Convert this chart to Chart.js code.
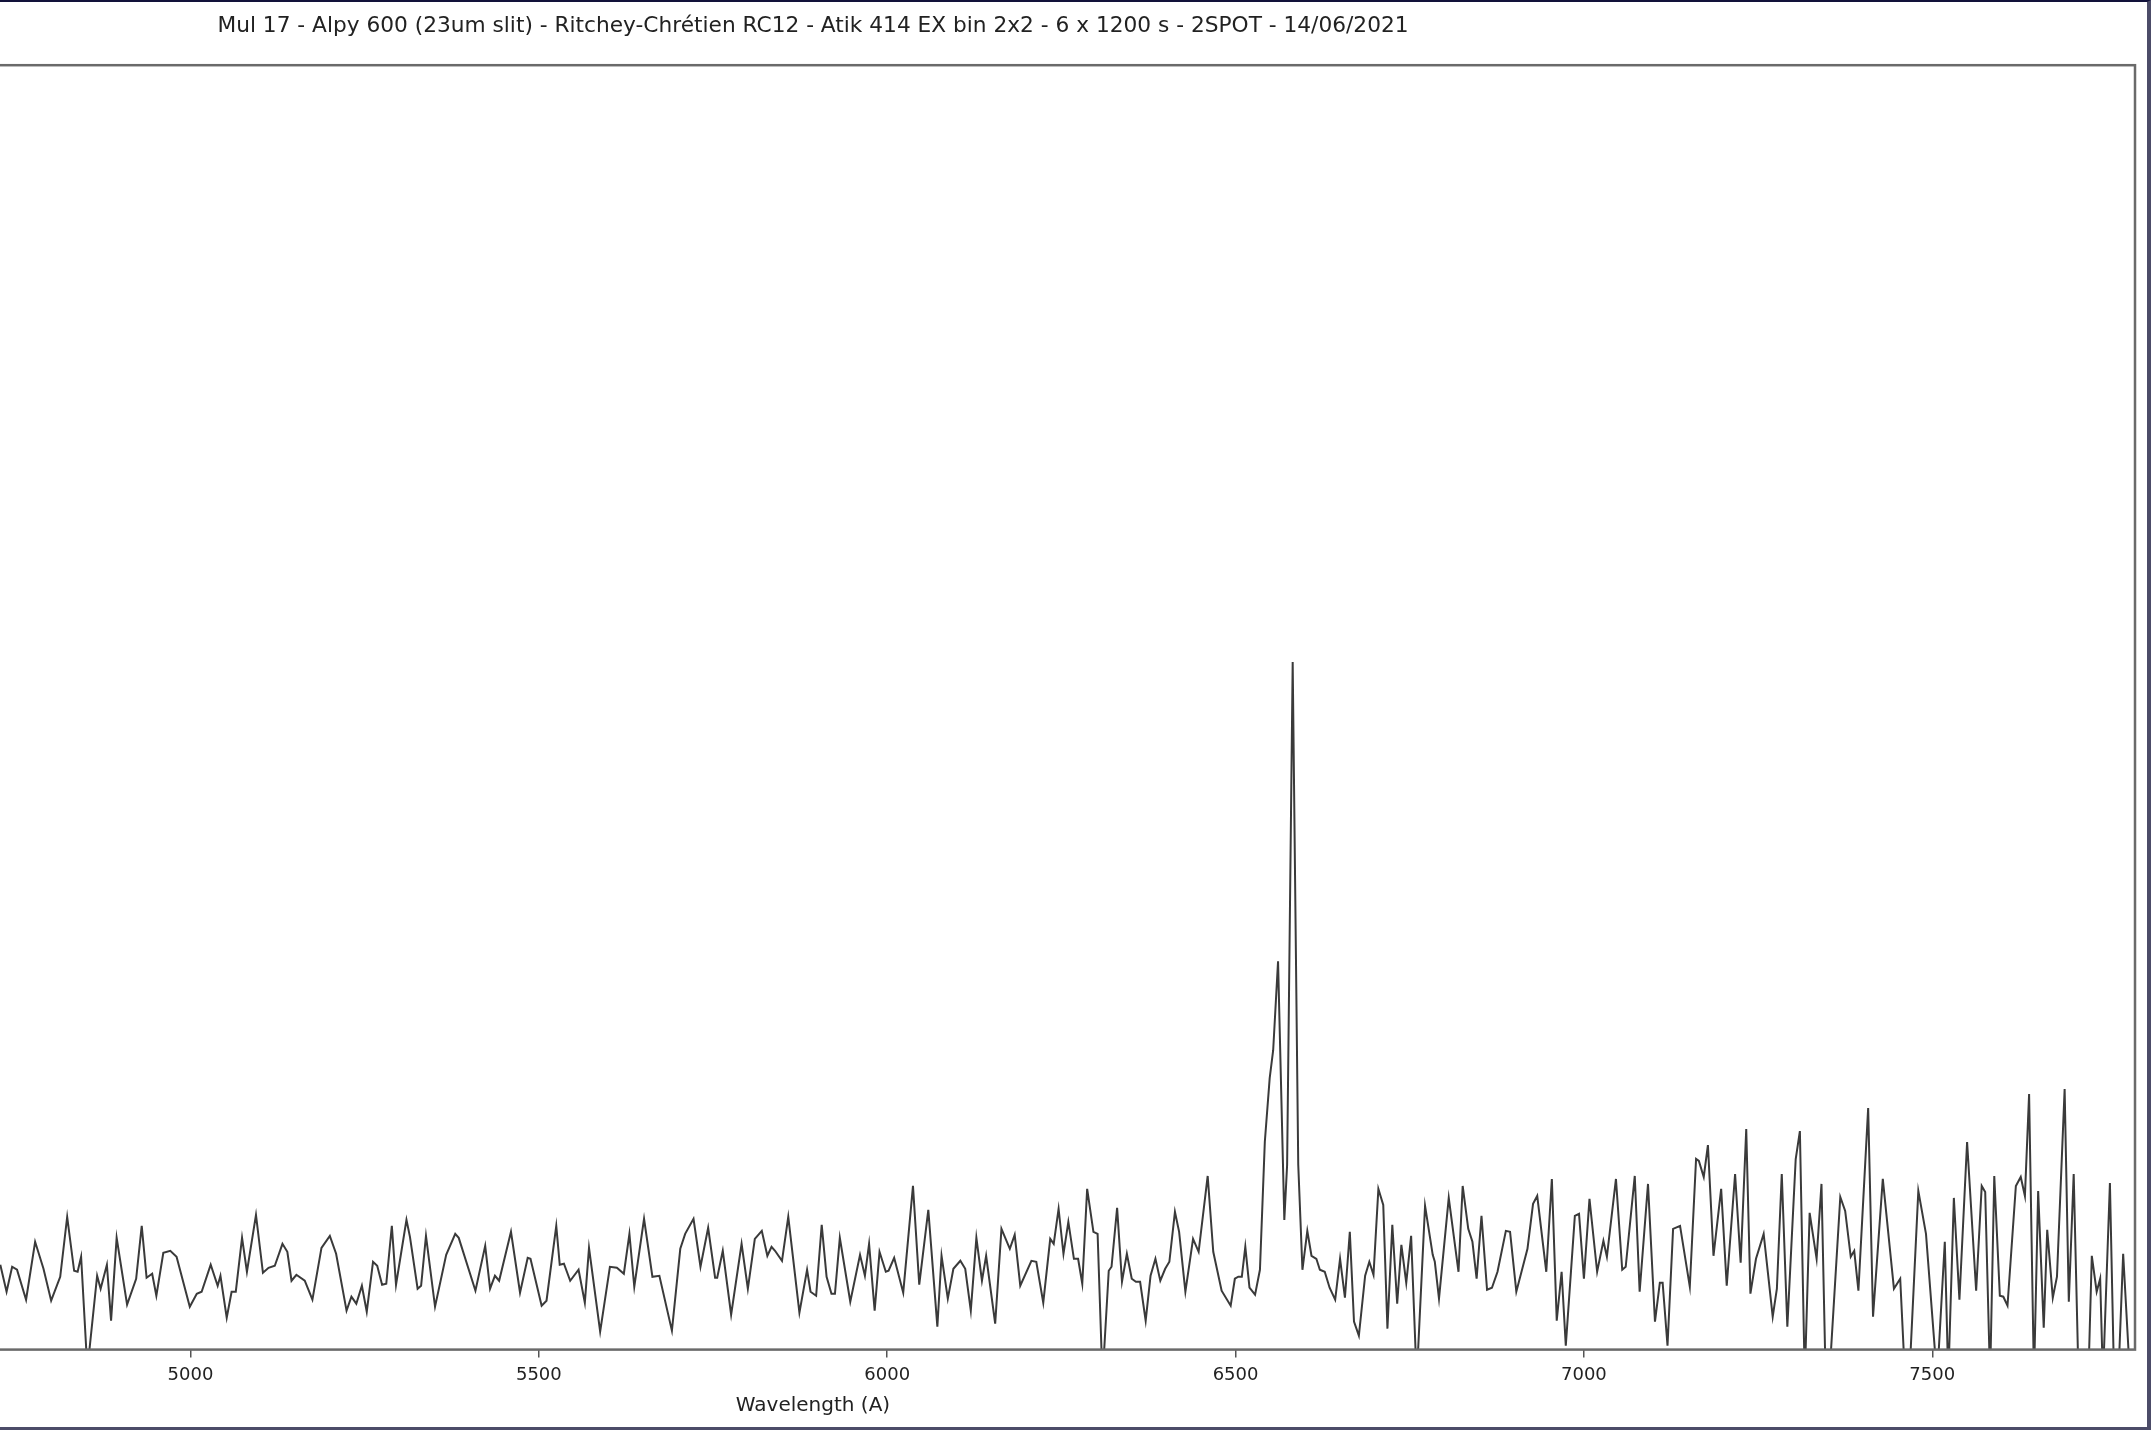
<!DOCTYPE html>
<html>
<head>
<meta charset="utf-8">
<title>Mul 17 spectrum</title>
<script src="https://cdn.jsdelivr.net/npm/chart.js@4.4.1/dist/chart.umd.min.js"></script>
<style>
  html, body { margin: 0; padding: 0; background: #fff; overflow: hidden; }
  body { width: 2151px; height: 1430px; position: relative; }
  /* the figure is wider than the window: its left part is cut off like in the screenshot */
  #plotBox { position: absolute; left: -509px; top: 0; width: 2660px; height: 1430px; }
  #frame { position: absolute; left: 0; top: 0; width: 2151px; height: 1430px; box-sizing: border-box;
           border-top: 2px solid #12123a; border-right: 4px solid #4c4c68; border-bottom: 3px solid #4c4c68;
           pointer-events: none; }
</style>
</head>
<body>
<div id="plotBox"><canvas id="myChart"></canvas></div>
<div id="frame"></div>
<script>
// spectrum (wavelength in A, flux in arbitrary units)
const wavelength = [
  4727, 4736, 4744, 4751, 4764, 4777, 4789, 4800, 4813, 4823, 4833, 4838, 4843, 4852, 4866, 4871, 4880, 4886, 4894, 4909,
  4922, 4930, 4937, 4945, 4951, 4961, 4971, 4980, 4999, 5009, 5016, 5029, 5039, 5043, 5052, 5059, 5065, 5074, 5081, 5094,
  5104, 5112, 5121, 5132, 5139, 5145, 5152, 5164, 5175, 5188, 5200, 5209, 5224, 5231, 5238, 5246, 5253, 5262, 5268, 5275,
  5281, 5289, 5295, 5310, 5315, 5326, 5331, 5338, 5351, 5367, 5380, 5385, 5409, 5423, 5430, 5437, 5443, 5460, 5473, 5484,
  5488, 5504, 5511, 5525, 5530, 5536, 5545, 5557, 5566, 5572, 5588, 5602, 5612, 5622, 5630, 5637, 5651, 5663, 5673, 5691,
  5703, 5710, 5722, 5732, 5743, 5753, 5756, 5764, 5776, 5791, 5800, 5810, 5820, 5828, 5834, 5839, 5849, 5858, 5874, 5885,
  5890, 5898, 5906, 5913, 5920, 5925, 5932, 5947, 5961, 5968, 5974, 5982, 5989, 5998, 6002, 6010, 6023, 6037, 6046, 6059,
  6072, 6078, 6087, 6095, 6105, 6112, 6120, 6128, 6136, 6142, 6155, 6164, 6176, 6183, 6191, 6207, 6214, 6224, 6234, 6239,
  6246, 6253, 6260, 6268, 6274, 6280, 6287, 6296, 6302, 6309, 6318, 6322, 6330, 6337, 6344, 6351, 6357, 6363, 6371, 6378,
  6385, 6392, 6399, 6405, 6413, 6419, 6428, 6439, 6447, 6460, 6468, 6480, 6493, 6499, 6504, 6509, 6514, 6520, 6528, 6535,
  6542, 6549, 6554, 6561, 6570, 6574, 6582, 6590, 6596, 6603, 6609, 6616, 6621, 6628, 6635, 6643, 6650, 6657, 6664, 6670,
  6677, 6686, 6692, 6698, 6705, 6712, 6718, 6725, 6732, 6738, 6745, 6752, 6760, 6772, 6783, 6786, 6792, 6806, 6820, 6826,
  6834, 6840, 6846, 6853, 6861, 6868, 6876, 6888, 6894, 6903, 6919, 6927, 6933, 6946, 6954, 6961, 6968, 6974, 6987, 6993,
  7000, 7008, 7019, 7028, 7033, 7046, 7055, 7060, 7073, 7080, 7092, 7102, 7109, 7113, 7120, 7128, 7138, 7152, 7161, 7165,
  7172, 7178, 7186, 7197, 7205, 7217, 7225, 7233, 7239, 7247, 7258, 7271, 7277, 7284, 7292, 7304, 7310, 7317, 7324, 7334,
  7341, 7347, 7353, 7368, 7375, 7383, 7388, 7394, 7408, 7415, 7429, 7445, 7454, 7461, 7467, 7480, 7491, 7507, 7518, 7523,
  7531, 7539, 7550, 7563, 7571, 7576, 7583, 7589, 7597, 7602, 7608, 7620, 7627, 7633, 7639, 7646, 7652, 7660, 7665, 7673,
  7679, 7690, 7696, 7703, 7710, 7724, 7729, 7736, 7741, 7745, 7755, 7761, 7767, 7774, 7784, 7791
];
const flux = [
  85, 58, 83, 80, 50, 108, 81, 49, 73, 133, 79, 78, 93, -20, 74, 61, 85, 29, 112, 45,
  71, 124, 72, 76, 54, 97, 99, 93, 43, 56, 58, 85, 64, 74, 32, 58, 58, 112, 78, 135,
  77, 82, 84, 106, 98, 69, 75, 69, 50, 102, 114, 96, 39, 53, 46, 64, 38, 88, 84, 65,
  66, 124, 65, 130, 113, 61, 64, 114, 43, 95, 116, 112, 59, 104, 61, 74, 69, 118, 57, 92,
  91, 44, 49, 124, 85, 86, 69, 80, 47, 102, 18, 83, 82, 76, 116, 63, 131, 73, 74, 19,
  101, 116, 131, 83, 122, 72, 72, 99, 35, 106, 61, 111, 119, 94, 103, 99, 89, 133, 37, 80,
  58, 54, 125, 73, 56, 56, 112, 48, 95, 74, 106, 39, 98, 78, 79, 92, 57, 164, 65, 140,
  23, 94, 51, 81, 89, 81, 39, 112, 69, 94, 26, 121, 101, 115, 64, 89, 88, 47, 111, 106,
  141, 96, 128, 91, 91, 66, 161, 118, 116, -30, 79, 83, 142, 68, 96, 71, 68, 68, 29, 74,
  91, 69, 81, 88, 138, 118, 58, 111, 98, 174, 98, 59, 44, 71, 73, 73, 103, 62, 55, 80,
  208, 272, 300, 389, 130, 185, 689, 185, 80, 119, 94, 91, 80, 78, 62, 50, 91, 52, 118, 28,
  14, 74, 88, 75, 161, 145, 21, 125, 46, 105, 67, 114, -30, 144, 95, 88, 51, 152, 78, 164,
  121, 108, 71, 134, 60, 62, 78, 119, 118, 58, 101, 146, 154, 78, 171, 29, 78, 4, 134, 136,
  71, 151, 78, 109, 93, 171, 80, 83, 174, 58, 166, 28, 67, 67, 4, 121, 124, 63, 191, 189,
  173, 205, 94, 161, 64, 176, 87, 221, 56, 91, 116, 33, 61, 176, 23, 191, 219, -30, 137, 91,
  166, -30, -20, 153, 139, 93, 99, 59, 242, 33, 171, 61, 71, -30, -30, 159, 116, -30, 108, -30,
  152, 50, 208, 59, 164, 158, -30, 174, 54, 53, 44, 164, 173, 154, 256, -30, 159, 22, 120, 52,
  73, 261, 48, 176, -30, -30, 94, 58, 71, -30, 167, -30, -30, 96, -30, -30
];
const xTicks = [5000, 5500, 6000, 6500, 7000, 7500];
const xRange = [3996, 7791];
const yRange = [0, 1287];

const chartTitle = 'Mul 17 - Alpy 600 (23um slit) - Ritchey-Chrétien RC12 - Atik 414 EX bin 2x2 - 6 x 1200 s - 2SPOT - 14/06/2021';
const xLabel = 'Wavelength (A)';

/**
 * draws the box round the plot area, like matplotlib's spines
 */
const boxPlugin = {
  id: 'box',
  afterDatasetsDraw(chart) {
    const a = chart.chartArea;
    const ctx = chart.ctx;
    ctx.save();
    ctx.strokeStyle = '#6a6a6a';
    ctx.lineWidth = 2.5;
    ctx.strokeRect(a.left, a.top, a.right - a.left, a.bottom - a.top);
    ctx.restore();
  }
};

function drawChart() {
  let points = wavelength.map((w, i) => ({ x: w, y: flux[i] }));

  var element = document.getElementById('myChart').getContext('2d');
  var myChart = new Chart(element, {
    type: 'line',
    data: {
      datasets: [{
        data: points,
        borderColor: '#3a3a3a',
        borderWidth: 2,
        pointRadius: 0,
        tension: 0,
        fill: false,
        clip: 0
      }]
    },
    options: {
      responsive: true,
      maintainAspectRatio: false,
      animation: false,
      layout: { padding: { left: 0, right: 16, top: 0, bottom: 8 } },
      plugins: {
        legend: { display: false },
        tooltip: { enabled: false },
        title: {
          display: true,
          text: chartTitle,
          fullSize: false,
          color: '#222',
          font: { family: 'DejaVu Sans', size: 21.7, weight: 'normal' },
          padding: { top: 13.6, bottom: 25.56 }
        }
      },
      scales: {
        x: {
          type: 'linear',
          min: xRange[0],
          max: xRange[1],
          afterBuildTicks: (axis) => { axis.ticks = xTicks.map(v => ({ value: v })); },
          ticks: {
            color: '#222',
            padding: 7.4,
            maxRotation: 0,
            font: { family: 'DejaVu Sans', size: 18 },
            callback: (v) => String(v)
          },
          grid: { display: true, drawOnChartArea: false, drawTicks: true, tickLength: 8, color: '#555', lineWidth: 1.5 },
          border: { display: false },
          title: {
            display: true,
            text: xLabel,
            color: '#222',
            font: { family: 'DejaVu Sans', size: 20 },
            padding: { top: 0, bottom: 4 }
          }
        },
        y: {
          display: false,
          min: yRange[0],
          max: yRange[1]
        }
      }
    },
    plugins: [boxPlugin]
  });
}

drawChart();
</script>
</body>
</html>
